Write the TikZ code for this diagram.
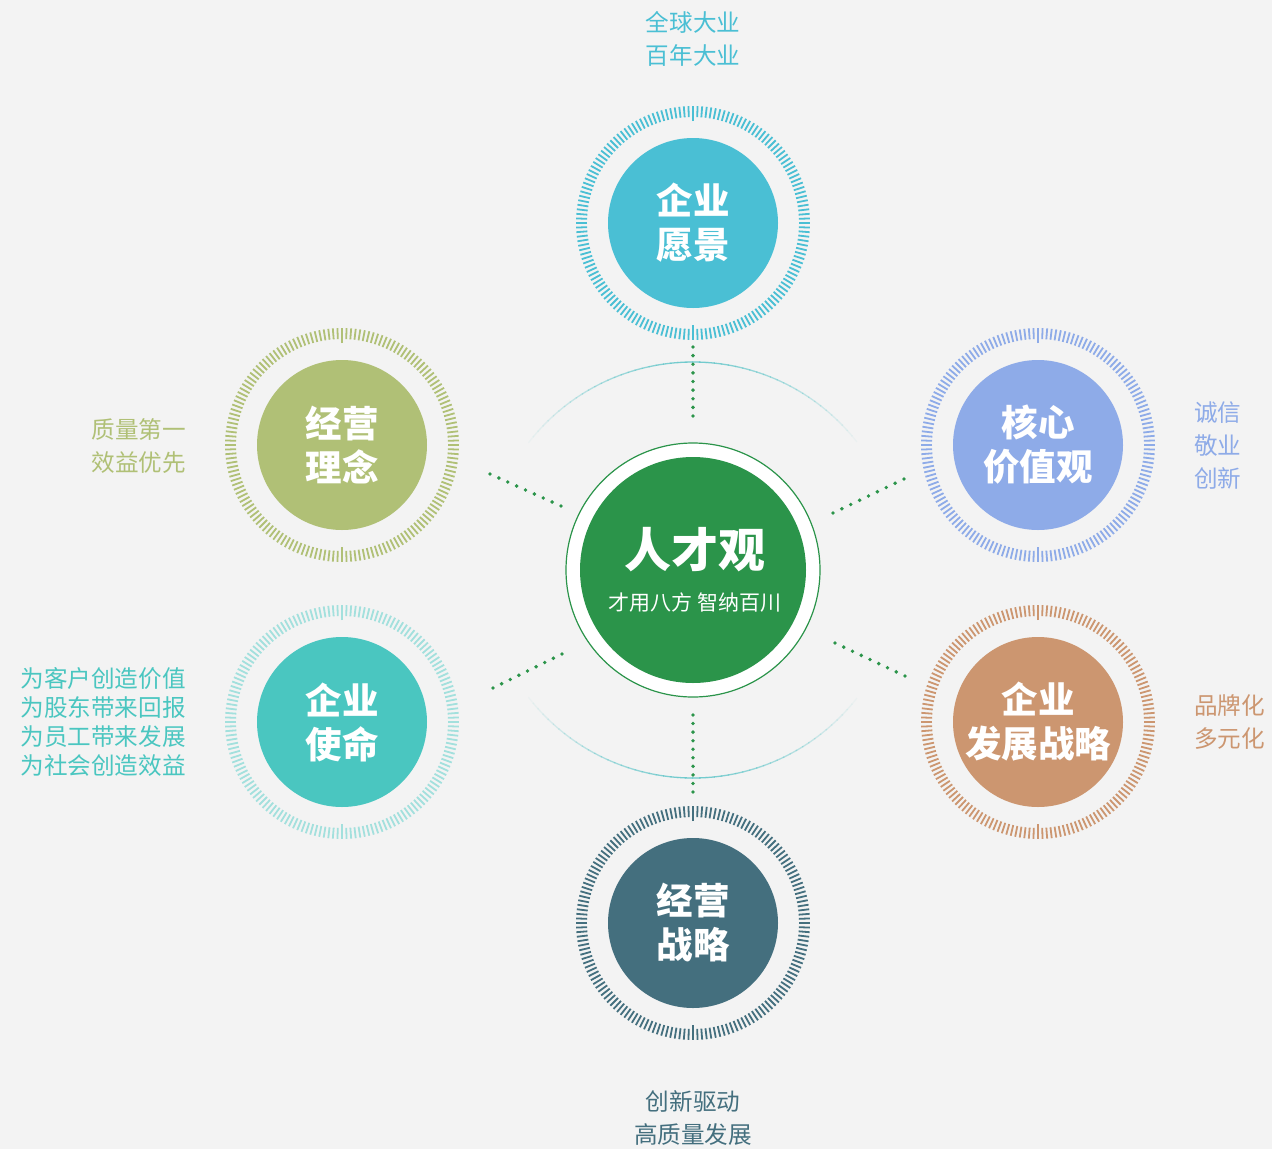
\documentclass[tikz,border=0pt]{standalone}
\usepackage{fontspec}
\setmainfont{Noto Sans CJK SC}
\definecolor{bg}{HTML}{F3F3F3}
\definecolor{cTop}{HTML}{4ABFD4}
\definecolor{cUL}{HTML}{B0C076}
\definecolor{cUR}{HTML}{8EABE8}
\definecolor{cLL}{HTML}{4AC6C0}
\definecolor{cLLring}{HTML}{A3E0DD}
\definecolor{cLR}{HTML}{CC9670}
\definecolor{cBot}{HTML}{446F7E}
\definecolor{cGreen}{HTML}{2B944A}
\definecolor{cArc}{HTML}{6CC9CC}
\tikzset{
  sat/.style={circle, fill=#1, minimum size=170pt, inner sep=0pt, text=white,
    font=\bfseries\fontsize{36.5}{44}\selectfont, align=center},
  lbl/.style={inner sep=0pt, text=#1, font=\fontsize{23.6}{33}\selectfont},
}
\newcommand{\tickring}[2]{%
  \foreach \i in {0,...,159}{
    \pgfmathsetmacro{\ang}{\i*2.25}
    \draw[#2, line width=1.8pt] ($(#1)+(\ang:106)$) -- ($(#1)+(\ang:117)$);
  }
  \foreach \ang in {90,270}{
    \draw[#2, line width=1.8pt] ($(#1)+(\ang:102)$) -- ($(#1)+(\ang:117)$);
  }
}
% dotted connector: from, to, number of gaps
\newcommand{\dotconn}[3]{%
  \foreach \k in {0,...,#3}{
    \fill[cGreen] ($(#1)!\k/#3!(#2)$) circle (1.9);
  }
}
\usetikzlibrary{calc}
\begin{document}
\begin{tikzpicture}[x=1pt,y=-1pt]
\fill[bg] (0,0) rectangle (1272,1149);
\useasboundingbox (0,0) rectangle (1272,1149);
% faint arcs
\coordinate (C) at (693,570);
\foreach \a in {38,40,...,140}{
  \pgfmathsetmacro{\op}{max(0,1-abs(\a+1-90)/54)}
  \draw[cArc, line width=1.3pt, opacity=\op] ($(C)+(\a:208)$) arc[start angle=\a, end angle=\a+2.3, radius=208];
  \draw[cArc, line width=1.3pt, opacity=\op] ($(C)+(-\a:208)$) arc[start angle=-\a, end angle=-\a-2.3, radius=208];
}
% dotted connectors
\coordinate (t1) at (693,347); \coordinate (t2) at (693,416);
\coordinate (b1) at (693,715); \coordinate (b2) at (693,792);
\coordinate (ul1) at (490,474); \coordinate (ul2) at (561,506);
\coordinate (ur1) at (833,513); \coordinate (ur2) at (904,479);
\coordinate (ll1) at (493,688); \coordinate (ll2) at (562,654);
\coordinate (lr1) at (835,643); \coordinate (lr2) at (905,676);
\dotconn{t1}{t2}{8}
\dotconn{b1}{b2}{9}
\dotconn{ul1}{ul2}{8}
\dotconn{ur1}{ur2}{8}
\dotconn{ll1}{ll2}{8}
\dotconn{lr1}{lr2}{8}
% center
\node[circle, fill=white, draw=cGreen, line width=1.2pt, minimum size=254pt, inner sep=0pt] (ring) at (C) {};
\node[circle, fill=cGreen, minimum size=226pt, inner sep=0pt] (center) at (C) {};
\node[text=white, font=\bfseries\fontsize{47}{50}\selectfont, inner sep=0pt] (title) at (695,550) {人才观};
\node[text=white, font=\fontsize{21}{24}\selectfont, inner sep=0pt] (sub) at (695,603) {才用八方 智纳百川};
% satellites
\coordinate (pT) at (693,223);
\coordinate (pUL) at (342,445);
\coordinate (pUR) at (1038,445);
\coordinate (pLL) at (342,722);
\coordinate (pLR) at (1038,722);
\coordinate (pB) at (693,923);
\tickring{pT}{cTop}
\tickring{pUL}{cUL}
\tickring{pUR}{cUR}
\tickring{pLL}{cLLring}
\tickring{pLR}{cLR}
\tickring{pB}{cBot}
\node[sat=cTop] (nT) at (pT) {企业\\愿景};
\node[sat=cUL] (nUL) at (pUL) {经营\\理念};
\node[sat=cUR] (nUR) at (pUR) {核心\\价值观};
\node[sat=cLL] (nLL) at (pLL) {企业\\使命};
\node[sat=cLR] (nLR) at (pLR) {企业\\发展战略};
\node[sat=cBot] (nB) at (pB) {经营\\战略};
% labels
\node[lbl=cTop, align=center] (lT) at (693,39) {全球大业\\百年大业};
\node[lbl=cUL, align=right, anchor=east] (lUL) at (186,446) {质量第一\\效益优先};
\node[lbl=cUR, align=left, anchor=west] (lUR) at (1194,445) {诚信\\敬业\\创新};
\node[lbl=cLL, align=right, anchor=east, font=\fontsize{23.6}{29}\selectfont] (lLL) at (186,722) {为客户创造价值\\为股东带来回报\\为员工带来发展\\为社会创造效益};
\node[lbl=cLR, align=left, anchor=west] (lLR) at (1194,722) {品牌化\\多元化};
\node[lbl=cBot, align=center] (lB) at (693,1118) {创新驱动\\高质量发展};
\end{tikzpicture}
\end{document}
